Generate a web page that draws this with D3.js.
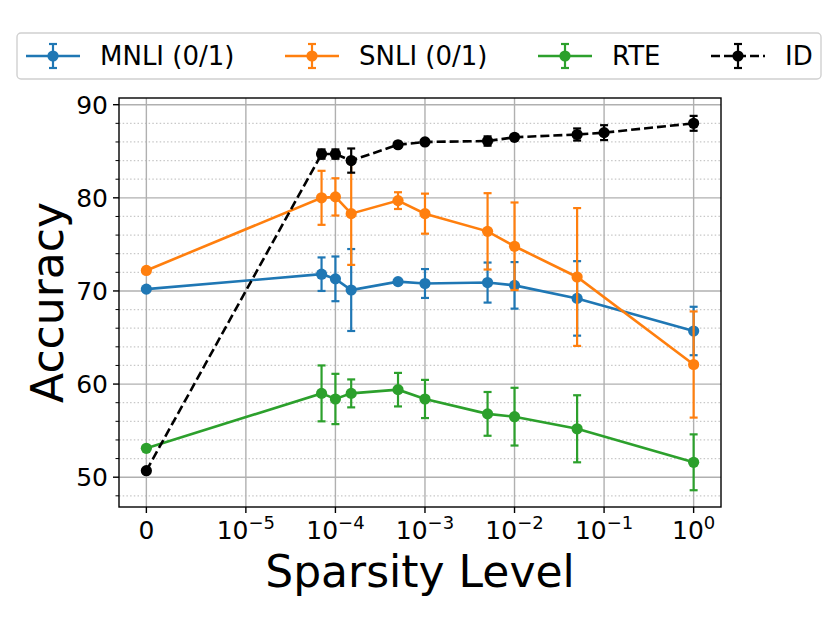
<!DOCTYPE html>
<html lang="en">
<head>
<meta charset="UTF-8">
<title>Accuracy vs Sparsity Level</title>
<script src="https://d3js.org/d3.v7.min.js"></script>
<style>
  body { margin: 0; background: #fff; }
  svg { font-family: "DejaVu Sans", sans-serif; }
</style>
</head>
<body>
<svg id="chart" width="830" height="623"></svg>
<script>
// sparsity levels (x) shared by all series
const sparsity = [0, 7e-5, 1e-4, 1.5e-4, 5e-4, 1e-3, 5e-3, 1e-2, 5e-2, 1e-1, 1];

// MNLI (0/1)
const mnliX   = [0, 7e-5, 1e-4, 1.5e-4, 5e-4, 1e-3, 5e-3, 1e-2, 5e-2, 1];
const mnliAcc = [70.2, 71.8, 71.3, 70.1, 71.0, 70.8, 70.9, 70.6, 69.2, 65.7];
const mnliErr = [0, 1.8, 2.4, 4.4, 0.25, 1.55, 2.15, 2.5, 4.0, 2.6];

// SNLI (0/1)
const snliX   = [0, 7e-5, 1e-4, 1.5e-4, 5e-4, 1e-3, 5e-3, 1e-2, 5e-2, 1];
const snliAcc = [72.2, 80.0, 80.1, 78.3, 79.7, 78.3, 76.4, 74.8, 71.5, 62.1];
const snliErr = [0, 2.9, 2.0, 5.5, 0.9, 2.15, 4.1, 4.7, 7.4, 5.7];

// RTE
const rteX   = [0, 7e-5, 1e-4, 1.5e-4, 5e-4, 1e-3, 5e-3, 1e-2, 5e-2, 1];
const rteAcc = [53.1, 59.0, 58.4, 59.0, 59.4, 58.4, 56.8, 56.5, 55.2, 51.6];
const rteErr = [0, 3.0, 2.7, 1.5, 1.8, 2.05, 2.35, 3.1, 3.6, 3.0];

// ID
const idX   = sparsity;
const idAcc = [50.7, 84.7, 84.7, 84.0, 85.7, 86.0, 86.1, 86.5, 86.8, 87.0, 88.0];
const idErr = [0, 0.5, 0.5, 1.3, 0.3, 0.2, 0.5, 0.2, 0.65, 0.8, 0.8];

const xTickValues = [0, 1e-5, 1e-4, 1e-3, 1e-2, 1e-1, 1];
const xTickExp    = [null, "\u22125", "\u22124", "\u22123", "\u22122", "\u22121", "0"];
const yTickValues = [50, 60, 70, 80, 90];

const series = [
  { name: "MNLI (0/1)", color: "#1f77b4", xs: mnliX, ys: mnliAcc, es: mnliErr, dash: null },
  { name: "SNLI (0/1)", color: "#ff7f0e", xs: snliX, ys: snliAcc, es: snliErr, dash: null },
  { name: "RTE",        color: "#2ca02c", xs: rteX,  ys: rteAcc,  es: rteErr,  dash: null },
  { name: "ID",         color: "#000000", xs: idX,   ys: idAcc,   es: idErr,   dash: "9,4" }
];

// matplotlib-like symlog transform (linthresh 1e-5, linscale 1)
const linthresh = 1e-5;
const linAdj = 1 / (1 - 1 / 10);
const symlog = v => v <= linthresh ? (v / linthresh) * linAdj : linAdj + Math.log10(v / linthresh);

const plot = { left: 119, right: 721, top: 98, bottom: 507 };

const xScale = d3.scaleLinear()
  .domain([symlog(0) - 0.3056, symlog(1) + 0.3056])
  .range([plot.left, plot.right]);
const x = v => xScale(symlog(v));

const yScale = d3.scaleLinear()
  .domain([46.8, 90.72])
  .range([plot.bottom, plot.top]);

const svg = d3.select("#chart");

// minor grid (every 2)
const minorTicks = d3.range(48, 91, 2).filter(v => v % 10 !== 0);
svg.append("g").selectAll("line").data(minorTicks).join("line")
  .attr("x1", plot.left).attr("x2", plot.right)
  .attr("y1", d => yScale(d)).attr("y2", d => yScale(d))
  .attr("stroke", "#c8c8c8").attr("stroke-width", 1.2)
  .attr("stroke-dasharray", "1.5,2.2");

// major grid
svg.append("g").selectAll("line").data(yTickValues).join("line")
  .attr("x1", plot.left).attr("x2", plot.right)
  .attr("y1", d => yScale(d)).attr("y2", d => yScale(d))
  .attr("stroke", "#b0b0b0").attr("stroke-width", 1.4);
svg.append("g").selectAll("line").data(xTickValues).join("line")
  .attr("x1", d => x(d)).attr("x2", d => x(d))
  .attr("y1", plot.top).attr("y2", plot.bottom)
  .attr("stroke", "#b0b0b0").attr("stroke-width", 1.4);

// series: error bars, lines, markers
const line = d3.line();
series.forEach(s => {
  const g = svg.append("g");
  const pts = s.xs.map((xv, i) => ({ x: xv, y: s.ys[i], e: s.es[i] }));
  const bars = pts.filter(p => p.e > 0);
  g.selectAll(".bar").data(bars).join("line")
    .attr("x1", d => x(d.x)).attr("x2", d => x(d.x))
    .attr("y1", d => yScale(d.y - d.e)).attr("y2", d => yScale(d.y + d.e))
    .attr("stroke", s.color).attr("stroke-width", 2.2);
  [-1, 1].forEach(sign => {
    g.selectAll(".cap" + sign).data(bars).join("line")
      .attr("x1", d => x(d.x) - 4).attr("x2", d => x(d.x) + 4)
      .attr("y1", d => yScale(d.y + sign * d.e)).attr("y2", d => yScale(d.y + sign * d.e))
      .attr("stroke", s.color).attr("stroke-width", 2.2);
  });
  g.append("path")
    .attr("d", line(pts.map(p => [x(p.x), yScale(p.y)])))
    .attr("fill", "none").attr("stroke", s.color).attr("stroke-width", 2.6)
    .attr("stroke-dasharray", s.dash);
  g.selectAll("circle").data(pts).join("circle")
    .attr("cx", d => x(d.x)).attr("cy", d => yScale(d.y)).attr("r", 5.6)
    .attr("fill", s.color);
});

// frame
svg.append("rect")
  .attr("x", plot.left).attr("y", plot.top)
  .attr("width", plot.right - plot.left).attr("height", plot.bottom - plot.top)
  .attr("fill", "none").attr("stroke", "#000").attr("stroke-width", 1.4);

// y axis ticks
const yAxis = svg.append("g");
yAxis.selectAll(".maj").data(yTickValues).join("line")
  .attr("x1", plot.left - 6).attr("x2", plot.left)
  .attr("y1", d => yScale(d)).attr("y2", d => yScale(d))
  .attr("stroke", "#000").attr("stroke-width", 1.4);
yAxis.selectAll(".min").data(minorTicks).join("line")
  .attr("x1", plot.left - 3.5).attr("x2", plot.left)
  .attr("y1", d => yScale(d)).attr("y2", d => yScale(d))
  .attr("stroke", "#000").attr("stroke-width", 1);
yAxis.selectAll("text").data(yTickValues).join("text")
  .attr("x", plot.left - 11).attr("y", d => yScale(d))
  .attr("dy", "0.36em").attr("text-anchor", "end")
  .attr("font-size", 25).text(d => d);

// x axis ticks
const xAxis = svg.append("g");
xAxis.selectAll("line").data(xTickValues).join("line")
  .attr("x1", d => x(d)).attr("x2", d => x(d))
  .attr("y1", plot.bottom).attr("y2", plot.bottom + 6)
  .attr("stroke", "#000").attr("stroke-width", 1.4);
xAxis.selectAll("text").data(xTickValues).join("text")
  .attr("x", d => x(d)).attr("y", plot.bottom + 32)
  .attr("text-anchor", "middle").attr("font-size", 25)
  .each(function(d, i) {
    const t = d3.select(this);
    if (xTickExp[i] === null) { t.text("0"); return; }
    t.append("tspan").text("10");
    t.append("tspan").attr("dy", -10).attr("font-size", 18).text(xTickExp[i]);
  });

// axis labels
svg.append("text")
  .attr("x", (plot.left + plot.right) / 2).attr("y", 587)
  .attr("text-anchor", "middle").attr("font-size", 44)
  .text("Sparsity Level");
svg.append("text")
  .attr("transform", `translate(63,${(plot.top + plot.bottom) / 2}) rotate(-90)`)
  .attr("text-anchor", "middle").attr("font-size", 44)
  .text("Accuracy");

// legend
const legend = svg.append("g");
legend.append("rect")
  .attr("x", 17).attr("y", 33).attr("width", 804).attr("height", 46).attr("rx", 4)
  .attr("fill", "#fff").attr("stroke", "#d0d0d0").attr("stroke-width", 1.4);
const legendX = [53, 312, 565, 738];
series.forEach((s, i) => {
  const cx = legendX[i], cy = 56;
  const g = legend.append("g");
  g.append("line").attr("x1", cx - 27).attr("x2", cx + 27).attr("y1", cy).attr("y2", cy)
    .attr("stroke", s.color).attr("stroke-width", 2.6).attr("stroke-dasharray", s.dash);
  g.append("line").attr("x1", cx).attr("x2", cx).attr("y1", cy - 12).attr("y2", cy + 12)
    .attr("stroke", s.color).attr("stroke-width", 2.2);
  [-12, 12].forEach(o => g.append("line")
    .attr("x1", cx - 4).attr("x2", cx + 4).attr("y1", cy + o).attr("y2", cy + o)
    .attr("stroke", s.color).attr("stroke-width", 2.2));
  g.append("circle").attr("cx", cx).attr("cy", cy).attr("r", 5.6).attr("fill", s.color);
  g.append("text").attr("x", cx + 47).attr("y", cy).attr("dy", "0.36em")
    .attr("font-size", 26).text(s.name);
});
</script>
</body>
</html>
